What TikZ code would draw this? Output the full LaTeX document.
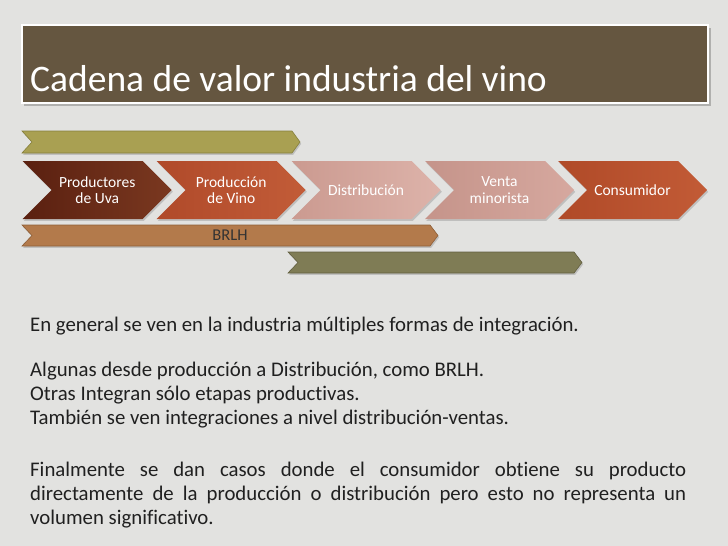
\documentclass[tikz,border=0pt]{standalone}
\usepackage{fontspec}
\setmainfont[Ligatures=NoCommon]{Carlito}
\usetikzlibrary{shadows}
\definecolor{bg}{HTML}{E2E2E0}
\definecolor{titlebar}{HTML}{655640}
\definecolor{olivebar}{HTML}{A9A052}
\definecolor{olivebarE}{HTML}{857F3C}
\definecolor{tanbar}{HTML}{B37A4B}
\definecolor{tanbarE}{HTML}{8E5E36}
\definecolor{greenbar}{HTML}{7F7C55}
\definecolor{greenbarE}{HTML}{625F40}
\definecolor{c1a}{HTML}{5A2010}
\definecolor{c1b}{HTML}{7A3820}
\definecolor{c2a}{HTML}{B04A2A}
\definecolor{c2b}{HTML}{C25C38}
\definecolor{c3a}{HTML}{CB9A90}
\definecolor{c3b}{HTML}{DDB3AA}
\definecolor{c4a}{HTML}{C5948A}
\definecolor{c4b}{HTML}{D6A89F}
\definecolor{c5a}{HTML}{B04A28}
\definecolor{c5b}{HTML}{C25B36}
\definecolor{bodytext}{HTML}{202020}
\tikzset{
  shad/.style={drop shadow={opacity=0.35,shadow xshift=1.2pt,shadow yshift=-1.8pt}},
  chevlabel/.style={text=white,align=center,font=\fontsize{15.5}{16.5}\selectfont},
  barlabel/.style={text=black!80,font=\fontsize{16.5}{17}\selectfont},
  bodyline/.style={anchor=base west,inner sep=0pt,text=bodytext,font=\fontsize{20.8}{23}\selectfont},
}
\newcommand\mychev[3]{%
  \path[shad,left color=#2,right color=#3] (#1,161) -- ++(120,0) -- ++(29,29) -- ++(-29,29) -- ++(-120,0) -- ++(29,-29) -- cycle;}
\begin{document}
\begin{tikzpicture}[x=1pt,y=-1pt]
\useasboundingbox (0,0) rectangle (728,546);
\fill[bg] (0,0) rectangle (728,546);
% title bar
\fill[black,opacity=0.22] (24,28) rectangle (711,106);
\draw[white,line width=2pt,fill=titlebar] (22,25) rectangle (708,103);
\node[anchor=base west,inner sep=0pt,text=white,font=\fontsize{37.5}{40}\selectfont] (title) at (30,91) {Cadena de valor industria del vino};
% top olive bar
\path[shad,fill=olivebar,draw=olivebarE,line width=0.6pt] (22,131) -- (292,131) -- (300,142) -- (292,153) -- (22,153) -- (32,142) -- cycle;
% chevrons
\mychev{22.7}{c1a}{c1b}
\mychev{156.7}{c2a}{c2b}
\mychev{291.7}{c3a}{c3b}
\mychev{425}{c4a}{c4b}
\mychev{558}{c5a}{c5b}
\node[chevlabel] (n1) at (97.2,190) {Productores\\de Uva};
\node[chevlabel] (n2) at (231.2,190) {Producción\\de Vino};
\node[chevlabel] (n3) at (366,190) {Distribución};
\node[chevlabel] (n4) at (499.5,190) {Venta\\minorista};
\node[chevlabel] (n5) at (632.5,190) {Consumidor};
% BRLH bar
\path[shad,fill=tanbar,draw=tanbarE,line width=0.6pt] (22,225) -- (430,225) -- (438,235.5) -- (430,246) -- (22,246) -- (32,235.5) -- cycle;
\node[barlabel] (brlh) at (230,235.5) {BRLH};
% bottom bar
\path[shad,fill=greenbar,draw=greenbarE,line width=0.6pt] (288,252) -- (574,252) -- (582,262.5) -- (574,273) -- (288,273) -- (298,262.5) -- cycle;
% body text
\node[bodyline] (t1) at (30,331) {En general se ven en la industria múltiples formas de integración.};
\node[bodyline] (t2) at (30,376) {Algunas desde producción a Distribución, como BRLH.};
\node[bodyline] (t3) at (30,400) {Otras Integran sólo etapas productivas.};
\node[bodyline] (t4) at (30,424) {También se ven integraciones a nivel distribución-ventas.};
\node[bodyline] (t5) at (30,476) {\makebox[656pt][s]{Finalmente se dan casos donde el consumidor obtiene su producto}};
\node[bodyline] (t6) at (30,500) {\makebox[656pt][s]{directamente de la producción o distribución pero esto no representa un}};
\node[bodyline] (t7) at (30,524) {volumen significativo.};
\end{tikzpicture}
\end{document}
